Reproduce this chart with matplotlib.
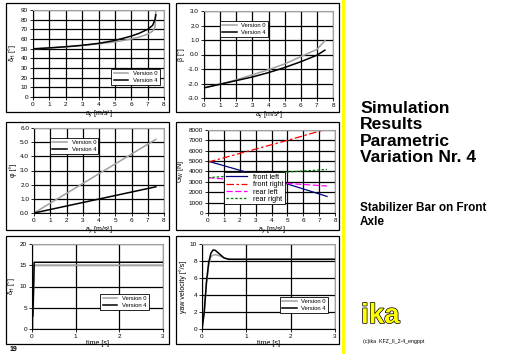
import matplotlib
matplotlib.use("Agg")
import matplotlib.pyplot as plt
import matplotlib.patheffects as pe
from matplotlib.patches import Rectangle

plt.rcParams['font.family'] = ['Liberation Sans', 'DejaVu Sans']

W, H = 512, 354

# lateral acceleration sweeps
ay_steer = [0, 0, 0.2, 1, 2, 3, 4, 5, 6, 6.5, 7, 7.3, 7.45, 7.5]
steer_v0 = [37, 50, 50, 50.8, 51.8, 53.2, 55, 57, 60, 62, 65, 68, 72, 90]
steer_v4 = [37, 50, 50, 50.8, 52, 53.5, 55.5, 58.5, 63, 66, 70, 74, 80, 85]

ay_beta = [0, 1, 2, 3, 4, 5, 6, 7, 7.5]
beta_v0 = [-2.3, -2.05, -1.75, -1.4, -1.05, -0.65, -0.15, 0.35, 0.95]
beta_v4 = [-2.3, -2.05, -1.8, -1.55, -1.25, -0.9, -0.5, -0.05, 0.3]

ay_roll = [0, 7.5]
roll_v0 = [0, 5.2]
roll_v4 = [0, 1.85]

ay_load = [0, 2.5, 5, 7.5]
load_fl = [5000, 3900, 2800, 1600]
load_fr = [4900, 5950, 7000, 8100]
load_rl = [3400, 3100, 2850, 2600]
load_rr = [3400, 3700, 3950, 4200]

# step steer time responses
t_steer = [0, 0.02, 0.05, 0.06, 3]
sw_v0 = [0, 0, 15, 15, 15]
sw_v4 = [3, 3, 15.7, 15.7, 15.7]

t_yaw = [0, 0.05, 0.1, 0.15, 0.2, 0.25, 0.3, 0.4, 0.5, 0.6, 0.7, 1, 3]
yaw_v0 = [0, 1.8, 5.3, 7.5, 8.5, 8.7, 8.75, 8.6, 8.35, 8.25, 8.2, 8.2, 8.2]
yaw_v4 = [0, 2.0, 5.5, 7.8, 8.9, 9.3, 9.25, 8.8, 8.35, 8.2, 8.2, 8.2, 8.2]

GREY = '#a0a0a0'

fig = plt.figure(figsize=(W / 100, H / 100), dpi=100)


def px_axes(l, t, r, b):
    return fig.add_axes([l / W, 1 - b / H, (r - l) / W, (b - t) / H])


def frame(l, t, r, b):
    fig.patches.append(Rectangle((l / W, 1 - b / H), (r - l) / W, (b - t) / H,
                                 transform=fig.transFigure, fill=False,
                                 edgecolor='black', lw=0.9))


def style(ax, xlim, ylim, xticks, yticks, yfmt=None):
    ax.set_xlim(*xlim)
    ax.set_ylim(*ylim)
    ax.set_xticks(xticks)
    ax.set_yticks(yticks)
    if yfmt:
        ax.set_yticklabels([yfmt.format(v) for v in yticks])
    ax.grid(True, color='black', lw=0.9)
    ax.set_axisbelow(True)
    ax.tick_params(labelsize=4.6, length=2, width=0.6, pad=1.5)
    for s in ['left', 'bottom']:
        ax.spines[s].set_color('black')
        ax.spines[s].set_linewidth(0.8)
    for s in ['top', 'right']:
        ax.spines[s].set_color(GREY)
        ax.spines[s].set_linewidth(0.8)


def legend(ax, **kw):
    lg = ax.legend(fontsize=4.2, frameon=True, fancybox=False, edgecolor='black',
                   framealpha=1, handlelength=2.5, borderpad=0.4, labelspacing=0.3, **kw)
    lg.get_frame().set_linewidth(0.6)


# frames around panels
for l, t, r, b in [(6, 3, 169, 112), (176, 3, 339, 112),
                   (6, 122, 169, 230), (176, 122, 339, 230),
                   (6, 236, 169, 344), (176, 236, 339, 344)]:
    frame(l, t, r, b)

# panel 1: steering wheel angle
ax = px_axes(33, 10, 164, 97)
ax.plot(ay_steer, steer_v0, color=GREY, lw=1.1, label='Version 0')
ax.plot(ay_steer, steer_v4, color='black', lw=1.1, label='Version 4')
style(ax, (0, 8), (0, 90), range(0, 9), range(0, 91, 10))
ax.set_xlabel('a$_\\mathregular{y}$ [m/s²]', fontsize=5, labelpad=1)
ax.set_ylabel('δ$_\\mathregular{H}$ [°]', fontsize=5, labelpad=2)
legend(ax, loc='lower right', bbox_to_anchor=(0.99, 0.1))

# panel 2: side slip angle
ax = px_axes(204, 11, 333, 98)
ax.plot(ay_beta, beta_v0, color=GREY, lw=1.1, label='Version 0')
ax.plot(ay_beta, beta_v4, color='black', lw=1.1, label='Version 4')
style(ax, (0, 8), (-3, 3), range(0, 9), [-3, -2, -1, 0, 1, 2, 3], '{:.1f}')
ax.set_xlabel('a$_\\mathregular{y}$ [m/s²]', fontsize=5, labelpad=1)
ax.set_ylabel('β [°]', fontsize=5, labelpad=2)
legend(ax, loc='upper left', bbox_to_anchor=(0.1, 0.92))

# panel 3: roll angle
ax = px_axes(34, 128, 164, 213)
ax.plot(ay_roll, roll_v0, color=GREY, lw=1.1, label='Version 0')
ax.plot(ay_roll, roll_v4, color='black', lw=1.1, label='Version 4')
style(ax, (0, 8), (0, 6), range(0, 9), range(0, 7), '{:.1f}')
ax.set_xlabel('a$_\\mathregular{y}$ [m/s²]', fontsize=5, labelpad=1)
ax.set_ylabel('φ [°]', fontsize=5, labelpad=2)
legend(ax, loc='upper left', bbox_to_anchor=(0.1, 0.92))

# panel 4: wheel loads
ax = px_axes(208, 130, 335, 213)
ax.plot(ay_load, load_fl, color='#000080', lw=0.9, label='front left')
ax.plot(ay_load, load_fr, color='red', lw=0.9, ls=(0, (6, 2, 2, 2)), label='front right')
ax.plot(ay_load, load_rl, color='#ff00ff', lw=0.9, ls=(0, (5, 2)), label='rear left')
ax.plot(ay_load, load_rr, color='#008000', lw=0.9, ls=(0, (2, 1.5)), label='rear right')
style(ax, (0, 8), (0, 8000), range(0, 9), range(0, 8001, 1000))
ax.set_xlabel('a$_\\mathregular{y}$ [m/s²]', fontsize=5, labelpad=1)
ax.set_ylabel('G$_\\mathregular{W}$ [N]', fontsize=5, labelpad=2)
lg = ax.legend(fontsize=5.2, frameon=True, fancybox=False, edgecolor='black',
               framealpha=1, handlelength=3, borderpad=0.2, labelspacing=0.05,
               loc='lower left', bbox_to_anchor=(0.1, 0.06))
lg.get_frame().set_linewidth(0.6)

# panel 5: steering wheel angle over time
ax = px_axes(32, 244, 163, 329)
ax.plot(t_steer, sw_v0, color=GREY, lw=1.1, label='Version 0')
ax.plot(t_steer, sw_v4, color='black', lw=1.1, label='Version 4')
style(ax, (0, 3), (0, 20), range(0, 4), range(0, 21, 5))
ax.set_xlabel('time [s]', fontsize=5, labelpad=1)
ax.set_ylabel('δ$_\\mathregular{H}$ [°]', fontsize=5, labelpad=2)
legend(ax, loc='center left', bbox_to_anchor=(0.5, 0.32))

# panel 6: yaw velocity
ax = px_axes(202, 244, 335, 329)
ax.plot(t_yaw, yaw_v0, color=GREY, lw=1.1, label='Version 0')
ax.plot(t_yaw, yaw_v4, color='black', lw=1.1, label='Version 4')
style(ax, (0, 3), (0, 10), range(0, 4), range(0, 11, 2))
ax.set_xlabel('time [s]', fontsize=5, labelpad=1)
ax.set_ylabel('yaw velocity [°/s]', fontsize=5, labelpad=2)
legend(ax, loc='lower right', bbox_to_anchor=(0.97, 0.15))

# yellow divider
fig.patches.append(Rectangle((342 / W, 0), 3 / W, 1, transform=fig.transFigure,
                             color='#ffff00', lw=0))

fig.text(360 / W, 1 - 101 / H, 'Simulation\nResults\nParametric\nVariation Nr. 4',
         fontsize=12.6, fontweight='bold', va='top', ha='left', linespacing=1.12)
fig.text(360 / W, 1 - 202 / H, 'Stabilizer Bar on Front\nAxle',
         fontsize=8.5, fontweight='bold', va='top', ha='left', linespacing=1.25)
fig.text(361 / W, 1 - 323 / H, 'ika', fontsize=20, fontweight='bold', color='#ffff00',
         va='baseline', ha='left',
         path_effects=[pe.withStroke(linewidth=1, foreground='black')])
fig.text(363 / W, 1 - 343 / H, '(c)ika  KFZ_II_2-4_engppt', fontsize=3.8,
         va='baseline', ha='left')
fig.text(10 / W, 1 - 351 / H, '19', fontsize=5, fontweight='bold',
         va='baseline', ha='left')

fig.savefig('out.png', dpi=100)
